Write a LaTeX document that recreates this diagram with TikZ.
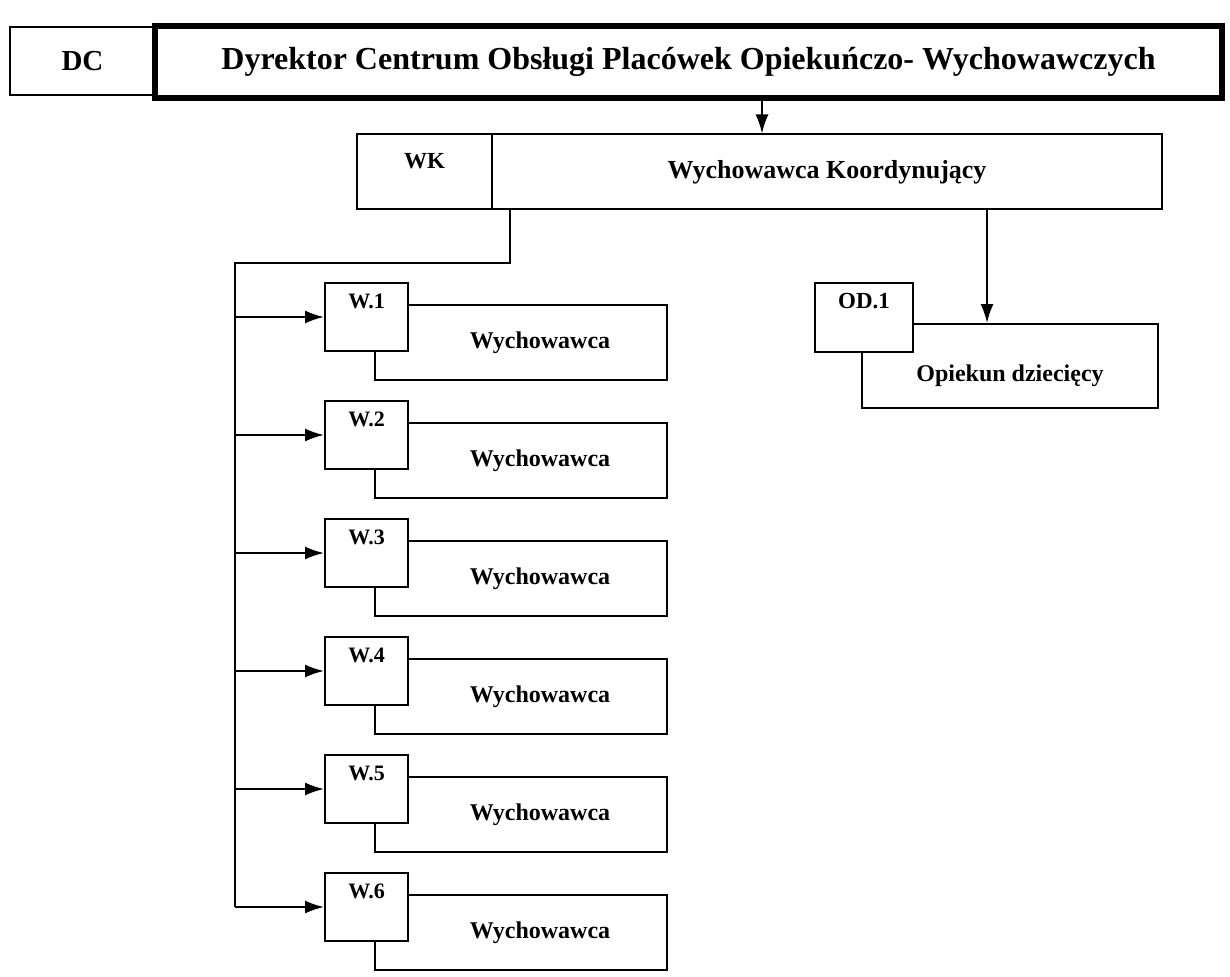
\documentclass[tikz,border=0pt]{standalone}
\usepackage{fontspec}
\setmainfont{Liberation Serif}
\usetikzlibrary{arrows.meta}

\begin{document}
\begin{tikzpicture}[x=1pt, y=-1pt, >={Latex[length=19pt,width=13pt]},
	box/.style={draw, line width=2pt, fill=white, inner sep=0pt, font=\bfseries\fontsize{24}{26}\selectfont},
	topbox/.style={box, line width=5.5pt, font=\bfseries\fontsize{32}{34}\selectfont},
	sq/.style={box, minimum width=83pt, minimum height=68pt, text height=15pt, text depth=33pt, font=\bfseries\fontsize{22}{24}\selectfont},
	wide/.style={box, minimum width=292pt, minimum height=75pt}]
	\useasboundingbox (0,0) rectangle (1230,976);

	% Define nodes
	\node (dc) [box, minimum width=145pt, minimum height=68pt, font=\bfseries\fontsize{29}{31}\selectfont] at (82.5,61) {DC};
	\node (dyr) [topbox, minimum width=1067pt, minimum height=72pt] at (688.5,62) {Dyrektor Centrum Obsługi Placówek Opiekuńczo- Wychowawczych};

	\node (wkn) [box, minimum width=670pt, minimum height=75pt, font=\bfseries\fontsize{26}{28}\selectfont] at (827,172) {Wychowawca Koordynujący};
	\node (wk) [box, minimum width=135pt, minimum height=75pt, text height=15pt, text depth=22pt, font=\bfseries\fontsize{23}{25}\selectfont] at (424.5,172) {WK};

	\node (odn) [box, minimum width=296pt, minimum height=84pt, text depth=0pt] at (1010,366) {\raisebox{-14pt}{Opiekun dziecięcy}};
	\node (od) [sq, minimum width=98pt, minimum height=69pt, font=\bfseries\fontsize{23}{25}\selectfont] at (864,317.5) {OD.1};

	\node (w1n) [wide] at (521,342.5) {\hspace*{38pt}Wychowawca};
	\node (w1) [sq] at (366.5,317) {W.1};
	\node (w2n) [wide] at (521,460.5) {\hspace*{38pt}Wychowawca};
	\node (w2) [sq] at (366.5,435) {W.2};
	\node (w3n) [wide] at (521,578.5) {\hspace*{38pt}Wychowawca};
	\node (w3) [sq] at (366.5,553) {W.3};
	\node (w4n) [wide] at (521,696.5) {\hspace*{38pt}Wychowawca};
	\node (w4) [sq] at (366.5,671) {W.4};
	\node (w5n) [wide] at (521,814.5) {\hspace*{38pt}Wychowawca};
	\node (w5) [sq] at (366.5,789) {W.5};
	\node (w6n) [wide] at (521,932.5) {\hspace*{38pt}Wychowawca};
	\node (w6) [sq] at (366.5,907) {W.6};

	\coordinate (down) at (762,0);
	\coordinate (odrop) at (987,0);
	\coordinate (br1) at (510,263);
	\coordinate (br2) at (235,263);

	% Draw edges
	\draw[->, line width=2pt] (down |- dyr.south) -- (down |- wkn.north);
	\draw[->, line width=2pt] (odrop |- wkn.south) -- (odrop |- odn.north);
	\draw[line width=2pt] (br1 |- wkn.south) -- (br1) -- (br2) -- (br2 |- w6.west);

	\path[->, line width=2pt]
	(br2 |- w1.west) edge (w1)
	(br2 |- w2.west) edge (w2)
	(br2 |- w3.west) edge (w3)
	(br2 |- w4.west) edge (w4)
	(br2 |- w5.west) edge (w5)
	(br2 |- w6.west) edge (w6);
\end{tikzpicture}
\end{document}
